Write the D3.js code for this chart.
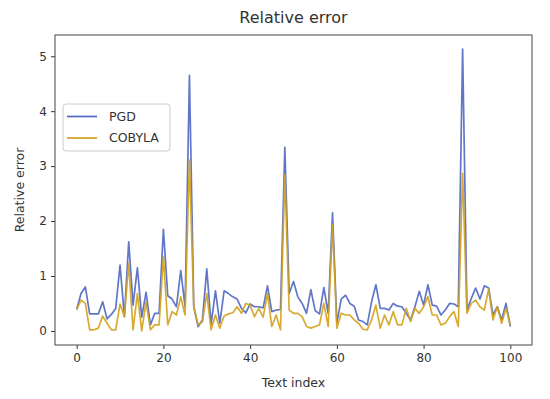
<!DOCTYPE html>
<html>
<head>
<meta charset="utf-8">
<script src="https://cdn.jsdelivr.net/npm/d3@7"></script>
<style>
  body { margin: 0; background: #fff; }
  text { font-family: 'DejaVu Sans', sans-serif; fill: #333; }
</style>
</head>
<body>
<div id="chart"></div>
<script>
var xTicks = [0, 20, 40, 60, 80, 100]
var yTicks = [0, 1, 2, 3, 4, 5]
var seriesNames = ['PGD', 'COBYLA']

var pgd = [
  0.39, 0.68, 0.8, 0.31, 0.31, 0.31, 0.53, 0.22, 0.3, 0.41,
  1.2, 0.26, 1.62, 0.47, 1.15, 0.25, 0.7, 0.11, 0.32, 0.32,
  1.85, 0.64, 0.58, 0.44, 1.1, 0.44, 4.65, 0.44, 0.08, 0.2,
  1.13, 0.12, 0.73, 0.14, 0.73, 0.68, 0.62, 0.58, 0.41, 0.33,
  0.49, 0.44, 0.44, 0.42, 0.82, 0.35, 0.38, 0.39, 3.34, 0.68,
  0.9, 0.62, 0.5, 0.32, 0.75, 0.37, 0.31, 0.79, 0.32, 2.15,
  0.14, 0.58, 0.65, 0.5, 0.45, 0.2, 0.17, 0.11, 0.53, 0.84,
  0.41, 0.41, 0.38, 0.5, 0.45, 0.44, 0.32, 0.2, 0.44, 0.72,
  0.47, 0.84, 0.47, 0.45, 0.29, 0.38, 0.5, 0.49, 0.44, 5.13,
  0.38, 0.59, 0.78, 0.58, 0.82, 0.78, 0.29, 0.44, 0.2, 0.5,
  0.08
]

var cobyla = [
  0.39, 0.56, 0.5, 0.02, 0.02, 0.05, 0.27, 0.14, 0.02, 0.02,
  0.49, 0.26, 1.23, 0.02, 0.68, 0.0, 0.53, 0.02, 0.11, 0.11,
  1.35, 0.11, 0.35, 0.29, 0.62, 0.29, 3.11, 0.44, 0.11, 0.17,
  0.68, 0.02, 0.29, 0.05, 0.27, 0.31, 0.33, 0.44, 0.32, 0.5,
  0.47, 0.26, 0.41, 0.25, 0.68, 0.08, 0.29, 0.02, 2.84, 0.38,
  0.32, 0.32, 0.26, 0.08, 0.05, 0.08, 0.11, 0.5, 0.08, 1.93,
  0.05, 0.32, 0.29, 0.29, 0.2, 0.14, 0.03, 0.02, 0.2, 0.47,
  0.05, 0.29, 0.11, 0.35, 0.11, 0.11, 0.41, 0.17, 0.41, 0.32,
  0.44, 0.62, 0.29, 0.29, 0.11, 0.14, 0.26, 0.35, 0.08, 2.87,
  0.32, 0.5, 0.56, 0.44, 0.38, 0.76, 0.2, 0.44, 0.14, 0.41,
  0.11
]

var colors = ['#4f67c2', '#d3a21c']

var margin = { top: 35, left: 55, right: 18, bottom: 54 }
var width = 550 - margin.left - margin.right
var height = 399 - margin.top - margin.bottom

var svg = d3
  .select('#chart')
  .append('svg')
  .attr('width', 550)
  .attr('height', 399)
  .append('g')
  .attr('transform', 'translate(' + margin.left + ',' + margin.top + ')')

var yMax = d3.max(pgd)
var yPad = yMax * 0.05

var xPositionScale = d3.scaleLinear().domain([-5, 105]).range([0, width])
var yPositionScale = d3
  .scaleLinear()
  .domain([-yPad, yMax + yPad])
  .range([height, 0])

var line = d3
  .line()
  .x(function(d, i) {
    return xPositionScale(i)
  })
  .y(function(d) {
    return yPositionScale(d)
  })

var series = [pgd, cobyla]
series.forEach(function(s, k) {
  svg
    .append('path')
    .datum(s)
    .attr('d', line)
    .attr('fill', 'none')
    .attr('stroke', colors[k])
    .attr('stroke-width', 1.7)
    .attr('stroke-opacity', 0.9)
    .attr('stroke-linejoin', 'round')
})

var xAxis = d3
  .axisBottom(xPositionScale)
  .tickValues(xTicks)
  .tickFormat(d3.format('d'))
  .tickSize(4)
  .tickPadding(4)
svg
  .append('g')
  .attr('class', 'axis x-axis')
  .attr('transform', 'translate(0,' + height + ')')
  .call(xAxis)

var yAxis = d3
  .axisLeft(yPositionScale)
  .tickValues(yTicks)
  .tickFormat(d3.format('d'))
  .tickSize(4)
  .tickPadding(4)
svg
  .append('g')
  .attr('class', 'axis y-axis')
  .call(yAxis)

svg.selectAll('.axis path').remove()
svg.selectAll('.axis line').attr('stroke', '#333')
svg
  .selectAll('.axis text')
  .attr('font-size', 12)
  .attr('font-family', "'DejaVu Sans', sans-serif")
  .attr('fill', '#333')

// frame
svg
  .append('rect')
  .attr('width', width)
  .attr('height', height)
  .attr('fill', 'none')
  .attr('stroke', '#444')
  .attr('stroke-width', 1)

svg
  .append('text')
  .text('Relative error')
  .attr('x', width / 2)
  .attr('y', -12)
  .attr('text-anchor', 'middle')
  .attr('font-size', 16)

svg
  .append('text')
  .text('Text index')
  .attr('x', width / 2)
  .attr('y', height + 42)
  .attr('text-anchor', 'middle')
  .attr('font-size', 12.5)

svg
  .append('text')
  .text('Relative error')
  .attr('transform', 'translate(' + -31 + ',' + height / 2 + ') rotate(-90)')
  .attr('text-anchor', 'middle')
  .attr('font-size', 12.5)

// legend
var legend = svg.append('g').attr('transform', 'translate(8,69)')
legend
  .append('rect')
  .attr('width', 107)
  .attr('height', 47)
  .attr('rx', 3)
  .attr('fill', '#fff')
  .attr('fill-opacity', 0.8)
  .attr('stroke', '#ccc')

seriesNames.forEach(function(name, k) {
  var g = legend.append('g').attr('transform', 'translate(0,' + (12.5 + k * 21.5) + ')')
  g.append('line')
    .attr('x1', 4)
    .attr('x2', 34)
    .attr('stroke', colors[k])
    .attr('stroke-width', 1.7)
  g.append('text')
    .text(name)
    .attr('x', 46)
    .attr('dy', '0.35em')
    .attr('font-size', 12.5)
})
</script>
</body>
</html>
